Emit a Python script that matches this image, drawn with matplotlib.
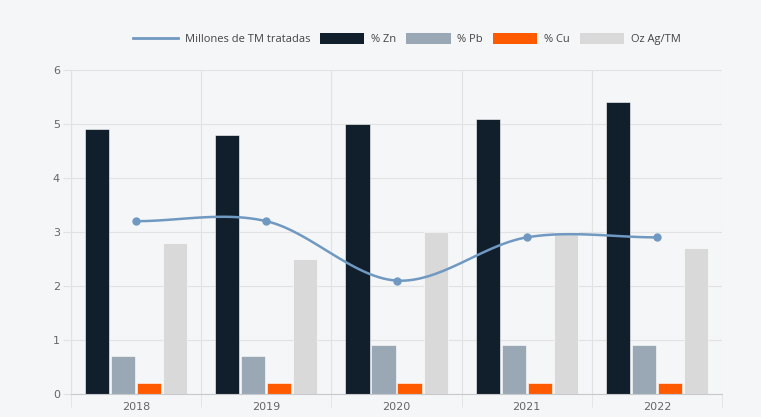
import numpy as np
import matplotlib.pyplot as plt
from matplotlib.lines import Line2D
from matplotlib.patches import Patch

years = ['2018', '2019', '2020', '2021', '2022']
millones_tm = [3.2, 3.2, 2.1, 2.9, 2.9]
zn = [4.9, 4.8, 5.0, 5.1, 5.4]
pb = [0.7, 0.7, 0.9, 0.9, 0.9]
cu = [0.2, 0.2, 0.2, 0.2, 0.2]
ag = [2.8, 2.5, 3.0, 3.0, 2.7]

bg = '#f5f6f8'
c_line = '#7099c2'
colors = ['#111e2c', '#9aa8b6', '#ff5a00', '#d9d9d9']
txt = '#666666'
grid_c = '#e1e2e4'


def catmull_rom(x, y, n=30):
    # smooth curve through the points (cardinal spline, like the web chart)
    x = np.asarray(x, float)
    y = np.asarray(y, float)
    px = np.concatenate([[2 * x[0] - x[1]], x, [2 * x[-1] - x[-2]]])
    py = np.concatenate([[y[0]], y, [y[-1]]])
    xs, ys = [], []
    for i in range(1, len(px) - 2):
        t = np.linspace(0, 1, n)
        for p, out in ((px, xs), (py, ys)):
            p0, p1, p2, p3 = p[i - 1], p[i], p[i + 1], p[i + 2]
            out.extend(0.5 * ((2 * p1) + (-p0 + p2) * t
                              + (2 * p0 - 5 * p1 + 4 * p2 - p3) * t ** 2
                              + (-p0 + 3 * p1 - 3 * p2 + p3) * t ** 3))
    return np.array(xs), np.array(ys)


fig = plt.figure(figsize=(7.61, 4.17), dpi=100, facecolor=bg)
ax = fig.add_axes([0.0933, 0.0552, 0.8555, 0.777], facecolor=bg)
plt.rcParams['font.family'] = ['Open Sans', 'DejaVu Sans']

x = np.arange(len(years))
offsets = [-0.3, -0.1, 0.1, 0.3]
width = 0.185
for vals, off, col in zip([zn, pb, cu, ag], offsets, colors):
    ax.bar(x + off, vals, width=width, color=col, edgecolor='white',
           linewidth=0.4, zorder=2)

sx, sy = catmull_rom(x, millones_tm)
ax.plot(sx, sy, color=c_line, lw=1.8, zorder=3)
ax.plot(x, millones_tm, 'o', color=c_line, ms=5, zorder=4)

ax.set_xlim(-0.5, len(years) - 0.5)
ax.set_ylim(0, 6)
ax.set_yticks(range(0, 7))
ax.set_xticks(x)
ax.set_xticklabels(years)
ax.set_xticks(np.arange(-0.5, len(years)), minor=True)
ax.tick_params(axis='x', which='major', length=0, pad=6, labelsize=8, labelcolor=txt)
ax.tick_params(axis='x', which='minor', length=9, color=grid_c)
ax.tick_params(axis='y', length=6, color=grid_c, labelsize=8, labelcolor=txt, pad=2)
ax.grid(axis='y', color=grid_c, lw=0.8, zorder=0)
ax.grid(axis='x', which='minor', color=grid_c, lw=0.8, zorder=0)
for s in ['top', 'right']:
    ax.spines[s].set_visible(False)
ax.spines['left'].set_color(grid_c)
ax.spines['bottom'].set_color('#c8c9cc')
ax.set_axisbelow(True)

handles = [Line2D([0], [0], color=c_line, lw=2)] + \
          [Patch(facecolor=c, edgecolor='none') for c in colors]
labels = ['Millones de TM tratadas', '% Zn', '% Pb', '% Cu', 'Oz Ag/TM']
leg = fig.legend(handles, labels, loc='center', bbox_to_anchor=(0.535, 0.906),
                 ncol=5, frameon=False, fontsize=8, handlelength=4,
                 handleheight=1.1, columnspacing=0.9, handletextpad=0.6)
for t in leg.get_texts():
    t.set_color('#444444')

fig.savefig('out.png', dpi=100, facecolor=bg)
